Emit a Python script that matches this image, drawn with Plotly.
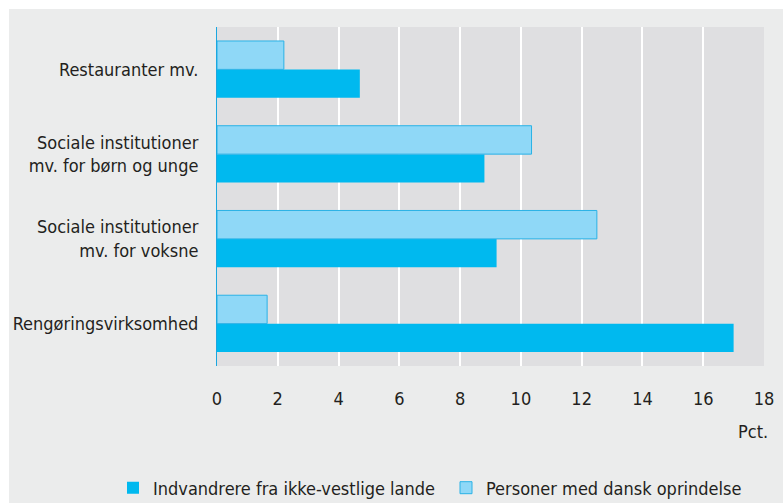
import plotly.graph_objects as go

categories = [
    "Restauranter mv.",
    "Sociale institutioner<br>mv. for børn og unge",
    "Sociale institutioner<br>mv. for voksne",
    "Rengøringsvirksomhed",
]
indvandrere = [4.7, 8.8, 9.2, 17.0]
dansk = [2.2, 10.35, 12.5, 1.65]
x_ticks = [0, 2, 4, 6, 8, 10, 12, 14, 16, 18]

W, H = 783, 503
L, R, T, B = 217, 19, 27, 137
pw, ph = W - L - R, H - T - B

FONT = "DejaVu Sans Condensed, Liberation Sans Narrow, sans-serif"
FS = 18
TXT = "#231f20"
DARK = "#00b9ef"
LIGHT = "#8fd8f7"
EDGE = "#2ab2e6"

fig = go.Figure()
fig.add_trace(go.Bar(
    y=categories, x=indvandrere, orientation="h",
    name="Indvandrere fra ikke-vestlige lande",
    marker=dict(color=DARK, line=dict(color=DARK, width=0)),
    legend="legend",
))
fig.add_trace(go.Bar(
    y=categories, x=dansk, orientation="h",
    name="Personer med dansk oprindelse",
    marker=dict(color=LIGHT, line=dict(color=EDGE, width=1)),
    legend="legend2",
))

def px2paper_x(px):
    return (px - L) / pw

def px2paper_y(py):
    return (H - B - py) / ph

# white strips at top and left edge of the page
fig.add_shape(type="rect", xref="paper", yref="paper",
              x0=px2paper_x(-2), x1=px2paper_x(W + 2), y0=px2paper_y(9), y1=px2paper_y(-2),
              fillcolor="white", line=dict(width=0), layer="above")
fig.add_shape(type="rect", xref="paper", yref="paper",
              x0=px2paper_x(-2), x1=px2paper_x(9), y0=px2paper_y(H + 2), y1=px2paper_y(-2),
              fillcolor="white", line=dict(width=0), layer="above")

fig.add_annotation(text="Pct.", xref="paper", yref="paper",
                   x=px2paper_x(770), y=px2paper_y(431), xanchor="right", yanchor="middle",
                   showarrow=False, font=dict(family=FONT, size=FS, color=TXT))

legend_common = dict(orientation="h", xref="container", yref="container",
                     y=1 - 488 / H, xanchor="left", yanchor="middle",
                     bgcolor="rgba(0,0,0,0)",
                     font=dict(family=FONT, size=FS, color=TXT))

fig.update_layout(
    width=W, height=H,
    margin=dict(l=L, r=R, t=T, b=B, pad=0, autoexpand=False),
    paper_bgcolor="#ebecec",
    plot_bgcolor="#dfdfe1",
    barmode="group", bargap=0.33, bargroupgap=0,
    font=dict(family=FONT, size=FS, color=TXT),
    showlegend=True,
    legend=dict(x=113 / W, **legend_common),
    legend2=dict(x=446 / W, **legend_common),
    xaxis=dict(range=[0, 18], tickvals=x_ticks, showgrid=True, gridcolor="white", gridwidth=2,
               zeroline=False, showline=False, ticks="", ticklabelstandoff=20, automargin=False,
               tickfont=dict(family=FONT, size=FS, color=TXT)),
    yaxis=dict(categoryorder="array", categoryarray=categories[::-1], showgrid=False,
               showline=True, linecolor="#1aa7e0", linewidth=1, ticks="", ticklabelstandoff=14,
               automargin=False, tickfont=dict(family=FONT, size=FS, color=TXT)),
)

fig.write_html("out.html", config={"displayModeBar": False},
               post_script="document.body.style.margin='0';")
